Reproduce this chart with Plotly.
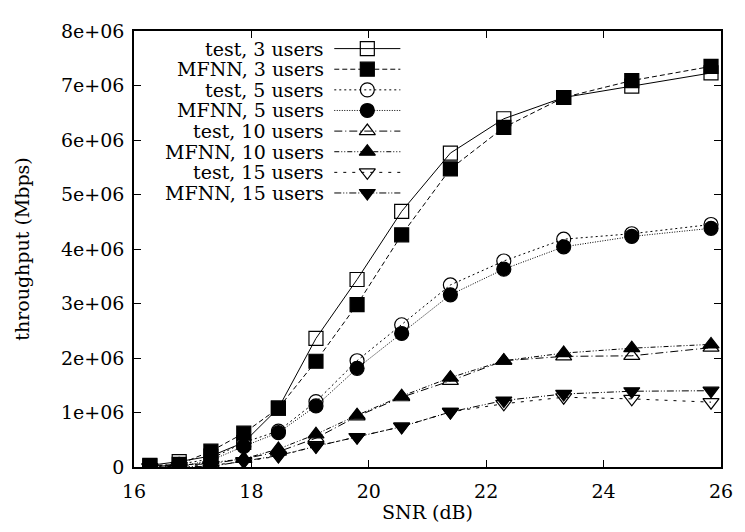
import plotly.graph_objects as go

snr = [16.27, 16.77, 17.31, 17.87, 18.46, 19.10, 19.80, 20.56, 21.39, 22.30, 23.32, 24.48, 25.83]

test_3 = [0.03, 0.10, 0.20, 0.45, 1.08, 2.36, 3.44, 4.69, 5.76, 6.39, 6.78, 6.99, 7.23]
mfnn_3 = [0.02, 0.05, 0.29, 0.62, 1.08, 1.94, 2.98, 4.26, 5.47, 6.23, 6.78, 7.09, 7.35]
test_5 = [0.02, 0.05, 0.15, 0.45, 0.66, 1.20, 1.95, 2.61, 3.34, 3.78, 4.18, 4.28, 4.45]
mfnn_5 = [0.02, 0.01, 0.12, 0.38, 0.63, 1.12, 1.81, 2.45, 3.16, 3.63, 4.04, 4.23, 4.38]
test_10 = [0.01, 0.03, 0.06, 0.15, 0.28, 0.53, 0.93, 1.28, 1.58, 1.95, 2.03, 2.04, 2.19]
mfnn_10 = [0.01, 0.03, 0.08, 0.15, 0.33, 0.60, 0.95, 1.30, 1.64, 1.95, 2.09, 2.18, 2.25]
test_15 = [0.00, 0.02, 0.03, 0.10, 0.20, 0.38, 0.55, 0.74, 1.01, 1.16, 1.28, 1.25, 1.19]
mfnn_15 = [-0.01, 0.01, 0.01, 0.11, 0.21, 0.38, 0.55, 0.74, 1.01, 1.22, 1.34, 1.39, 1.40]

series_names = ["test, 3 users", "MFNN, 3 users", "test, 5 users", "MFNN, 5 users",
                "test, 10 users", "MFNN, 10 users", "test, 15 users", "MFNN, 15 users"]
series_values = [test_3, mfnn_3, test_5, mfnn_5, test_10, mfnn_10, test_15, mfnn_15]

y_tick_vals = [0, 1e6, 2e6, 3e6, 4e6, 5e6, 6e6, 7e6, 8e6]
y_tick_text = ["0", "1e+06", "2e+06", "3e+06", "4e+06", "5e+06", "6e+06", "7e+06", "8e+06"]
x_tick_vals = [16, 18, 20, 22, 24, 26]

# styles
symbols = ["square-open", "square", "circle-open", "circle",
           "triangle-up-open", "triangle-up", "triangle-down-open", "triangle-down"]
dashes = ["solid", "5px,3px", "2px,3px", "1px,1.5px",
          "8px,3px,1px,3px", "5px,2px,1px,2px,1px,2px", "3px,6px", "7px,2px,1px,2px,1px,2px"]
sizes = [14, 14, 14, 14, 14, 14, 14, 14]

FONT = "DejaVu Serif"
FS = 19
fig = go.Figure()

for name, vals, sym, dash, sz in zip(series_names, series_values, symbols, dashes, sizes):
    fig.add_trace(go.Scatter(
        x=snr, y=[v * 1e6 for v in vals], mode="lines+markers", name=name,
        line=dict(color="black", width=1, dash=dash),
        marker=dict(symbol=sym, size=sz, color="black", line=dict(color="black", width=1.2)),
        showlegend=False, xaxis="x", yaxis="y"))

# page offset (default body margin of the html page)
OFF = 8
# target plot box in screenshot pixels
L, R, T, B = 134, 729, 22, 468
W, H = 745 - OFF, 532 - OFF

# gnuplot-style key (text right-aligned, sample to the right) on a pixel-space overlay axis
row0, row_h = 40, 21.1
text_right, samp_l, samp_r = 329, 337, 404
for i, (name, sym, dash, sz) in enumerate(zip(series_names, symbols, dashes, sizes)):
    yy = row0 + i * row_h
    fig.add_trace(go.Scatter(
        x=[samp_l, samp_r], y=[yy, yy], mode="lines",
        line=dict(color="black", width=1, dash=dash),
        showlegend=False, hoverinfo="skip", xaxis="x2", yaxis="y2"))
    fig.add_trace(go.Scatter(
        x=[(samp_l + samp_r) / 2], y=[yy], mode="markers",
        marker=dict(symbol=sym, size=sz, color="black", line=dict(color="black", width=1.2)),
        showlegend=False, hoverinfo="skip", xaxis="x2", yaxis="y2"))
    fig.add_annotation(x=text_right, y=yy, xref="x2", yref="y2", text=name,
                       showarrow=False, xanchor="right", yanchor="middle",
                       font=dict(family=FONT, size=FS, color="black"))

axis_common = dict(showgrid=False, zeroline=False, showline=True, linecolor="black",
                   linewidth=1.5, mirror="ticks", ticks="inside", ticklen=7,
                   tickcolor="black", tickwidth=1.2,
                   tickfont=dict(family=FONT, size=FS, color="black"))

fig.update_layout(
    width=W, height=H,
    margin=dict(l=L - OFF, r=W - (R - OFF), t=T - OFF, b=H - (B - OFF)),
    paper_bgcolor="white", plot_bgcolor="white",
    xaxis=dict(range=[16, 26], tickvals=x_tick_vals, ticklabelstandoff=6,
               title=dict(text="SNR (dB)", font=dict(family=FONT, size=FS, color="black"), standoff=5),
               **axis_common),
    yaxis=dict(range=[0, 8e6], tickvals=y_tick_vals, ticktext=y_tick_text, ticklabelstandoff=4,
               title=dict(text="throughput (Mbps)", font=dict(family=FONT, size=FS, color="black"), standoff=26),
               **axis_common),
    xaxis2=dict(range=[L, R], overlaying="x", visible=False, fixedrange=True),
    yaxis2=dict(range=[B, T], overlaying="y", visible=False, fixedrange=True),
    showlegend=False,
)

fig.write_html("out.html")
